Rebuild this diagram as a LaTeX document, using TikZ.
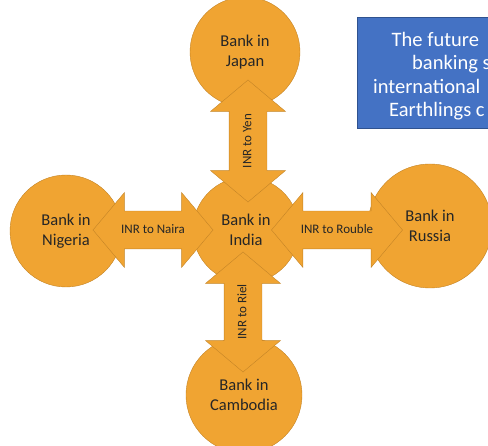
\documentclass[tikz,border=0pt]{standalone}
\usepackage{fontspec}
\setmainfont{Carlito}
\usetikzlibrary{shapes.arrows}
\definecolor{bankorange}{RGB}{240,164,50}
\definecolor{bankedge}{RGB}{196,132,38}
\definecolor{boxblue}{RGB}{68,114,196}
\definecolor{boxedge}{RGB}{47,82,143}
\definecolor{inktext}{RGB}{38,38,38}
\tikzset{
  bank/.style={circle, draw=bankedge, fill=bankorange, text=inktext, align=center,
    inner sep=0pt, font=\fontsize{16.5}{20}\selectfont},
  swaparrow/.style={double arrow, draw=bankedge, fill=bankorange, text=inktext,
    font=\fontsize{13}{15}\selectfont, text height=9.5pt, text depth=3pt,
    inner xsep=2pt, inner ysep=12.5pt, double arrow head extend=18.5pt,
    double arrow tip angle=100},
  boxline/.style={anchor=base west, text=white, inner sep=0pt,
    font=\fontsize{20.5}{24}\selectfont}
}
\begin{document}
\begin{tikzpicture}[x=1pt,y=-1pt]
  \useasboundingbox (0,0) rectangle (488,446);
  % the banks
  \node[bank, minimum size=110pt] (japan) at (245,52) {Bank in\\Japan};
  \node[bank, minimum size=106pt] (india) at (246,230) {Bank in\\India};
  \node[bank, minimum size=112pt] (nigeria) at (66,231) {Bank in\\Nigeria};
  \node[bank, minimum size=124pt] (russia) at (430,226) {Bank in\\Russia};
  \node[bank, minimum size=116pt] (cambodia) at (244,395) {Bank in\\Cambodia};
  % currency exchanges
  \node[swaparrow, minimum height=120pt] (naira) at (153,230) {INR to Naira};
  \node[swaparrow, minimum height=131pt] (rouble) at (337,230) {INR to Rouble};
  \node[swaparrow, minimum height=122pt, rotate=90] (yen) at (248,141) {INR to Yen};
  \node[swaparrow, minimum height=120pt, rotate=90] (riel) at (243,312) {INR to Riel};
  % note box
  \draw[boxedge, fill=boxblue] (357,17) rectangle (500,128);
  \node[boxline] (note1) at (391.5,46.5) {The future};
  \node[boxline] (note2) at (412,70) {banking s};
  \node[boxline] (note3) at (373,93.5) {international};
  \node[boxline] (note4) at (389,117) {Earthlings c};
\end{tikzpicture}
\end{document}
